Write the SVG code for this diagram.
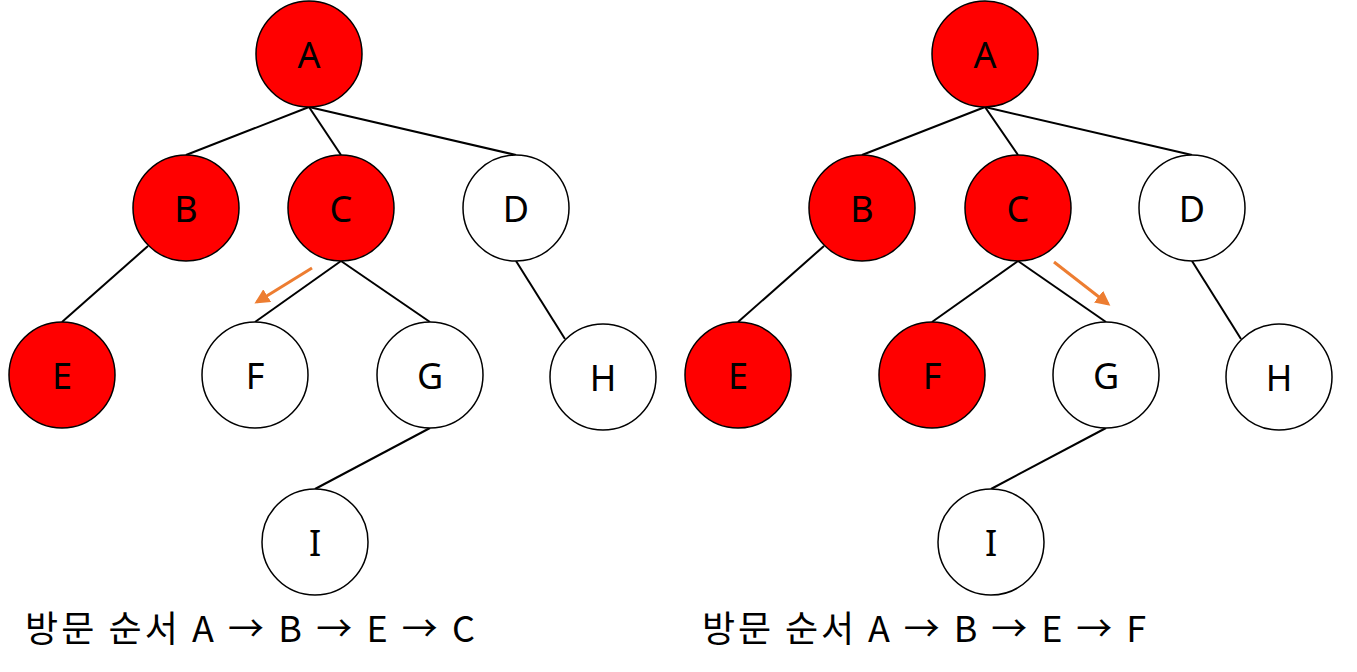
<svg xmlns="http://www.w3.org/2000/svg" width="1357" height="672" viewBox="0 0 1357 672">
<defs>
<style>
.n{stroke:#000;stroke-width:1.5}
.r{fill:#ff0000}
.w{fill:#fff}
.t{font-family:"Noto Sans","Noto Sans CJK KR",sans-serif;font-size:36px;fill:#000;text-anchor:middle;dominant-baseline:central}
.e{stroke:#000;stroke-width:2;fill:none}
.o{stroke:#ed7d31;stroke-width:3;fill:none}
.cap{font-family:"Noto Sans CJK KR","Noto Sans",sans-serif;font-size:36px;fill:#000}
</style>
<marker id="ah" viewBox="0 0 10 10" refX="8" refY="5" markerWidth="5" markerHeight="5" orient="auto"><path d="M0,0L10,5L0,10z" fill="#ed7d31"/></marker>
</defs>
<rect width="1357" height="672" fill="#fff"/>
<g id="connectors">
<line class="e" x1="309" y1="107" x2="186" y2="155"/>
<line class="e" x1="309" y1="107" x2="341" y2="155"/>
<line class="e" x1="309" y1="107" x2="516" y2="155"/>
<line class="e" x1="148" y1="246" x2="62" y2="322"/>
<line class="e" x1="341" y1="261" x2="255" y2="322"/>
<line class="e" x1="341" y1="261" x2="430" y2="322"/>
<line class="e" x1="516" y1="261" x2="565" y2="339"/>
<line class="e" x1="430" y1="428" x2="315" y2="489"/>
<line class="o" x1="312" y1="268" x2="257" y2="302" marker-end="url(#ah)"/>
<line class="e" x1="985" y1="107" x2="862" y2="155"/>
<line class="e" x1="985" y1="107" x2="1018" y2="155"/>
<line class="e" x1="985" y1="107" x2="1192" y2="155"/>
<line class="e" x1="824" y1="246" x2="738" y2="322"/>
<line class="e" x1="1018" y1="261" x2="932" y2="322"/>
<line class="e" x1="1018" y1="261" x2="1106" y2="322"/>
<line class="e" x1="1192" y1="261" x2="1241" y2="339"/>
<line class="e" x1="1106" y1="428" x2="991" y2="489"/>
<line class="o" x1="1054" y1="262" x2="1108" y2="304" marker-end="url(#ah)"/>
</g>
<g id="L-A"><circle class="n r" cx="309" cy="54" r="53"/><text class="t" x="309" y="54">A</text></g>
<g id="L-B"><circle class="n r" cx="186" cy="208" r="53"/><text class="t" x="186" y="208">B</text></g>
<g id="L-C"><circle class="n r" cx="341" cy="208" r="53"/><text class="t" x="341" y="208">C</text></g>
<g id="L-D"><circle class="n w" cx="516" cy="208" r="53"/><text class="t" x="516" y="208">D</text></g>
<g id="L-E"><circle class="n r" cx="62" cy="375" r="53"/><text class="t" x="62" y="375">E</text></g>
<g id="L-F"><circle class="n w" cx="255" cy="375" r="53"/><text class="t" x="255" y="375">F</text></g>
<g id="L-G"><circle class="n w" cx="430" cy="375" r="53"/><text class="t" x="430" y="375">G</text></g>
<g id="L-H"><circle class="n w" cx="603" cy="377" r="53"/><text class="t" x="603" y="377">H</text></g>
<g id="L-I"><circle class="n w" cx="315" cy="542" r="53"/><text class="t" x="315" y="542">I</text></g>
<g id="R-A"><circle class="n r" cx="985" cy="54" r="53"/><text class="t" x="985" y="54">A</text></g>
<g id="R-B"><circle class="n r" cx="862" cy="208" r="53"/><text class="t" x="862" y="208">B</text></g>
<g id="R-C"><circle class="n r" cx="1018" cy="208" r="53"/><text class="t" x="1018" y="208">C</text></g>
<g id="R-D"><circle class="n w" cx="1192" cy="208" r="53"/><text class="t" x="1192" y="208">D</text></g>
<g id="R-E"><circle class="n r" cx="738" cy="375" r="53"/><text class="t" x="738" y="375">E</text></g>
<g id="R-F"><circle class="n r" cx="932" cy="375" r="53"/><text class="t" x="932" y="375">F</text></g>
<g id="R-G"><circle class="n w" cx="1106" cy="375" r="53"/><text class="t" x="1106" y="375">G</text></g>
<g id="R-H"><circle class="n w" cx="1279" cy="377" r="53"/><text class="t" x="1279" y="377">H</text></g>
<g id="R-I"><circle class="n w" cx="991" cy="542" r="53"/><text class="t" x="991" y="542">I</text></g>
<g id="captions">
<text class="cap" x="25" y="642" textLength="450" lengthAdjust="spacing">방문 순서 A → B → E → C</text>
<text class="cap" x="702" y="642" textLength="444" lengthAdjust="spacing">방문 순서 A → B → E → F</text>
</g>
</svg>
